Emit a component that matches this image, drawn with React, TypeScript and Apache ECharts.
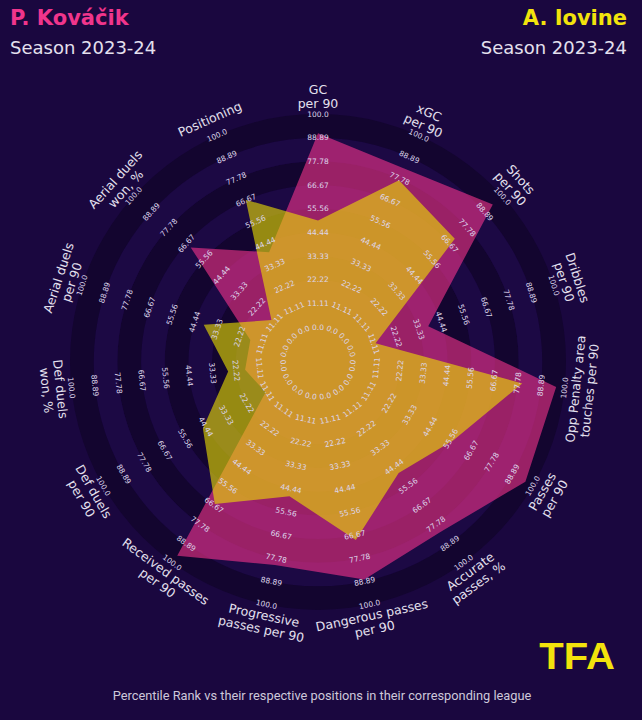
import React, { useEffect, useRef } from "react";
import * as echarts from "echarts";

// ---- data ----
const params = [
  "GC\nper 90",
  "xGC\nper 90",
  "Shots\nper 90",
  "Dribbles\nper 90",
  "Opp Penalty area\ntouches per 90",
  "Passes\nper 90",
  "Accurate\npasses, %",
  "Dangerous passes\nper 90",
  "Progressive\npasses per 90",
  "Received passes\nper 90",
  "Def duels\nper 90",
  "Def duels\nwon, %",
  "Aerial duels\nper 90",
  "Aerial duels\nwon, %",
  "Positioning",
];
const kovacik = [91, 83, 94, 38, 96, 96, 82, 88, 81, 96, 12, 18, 17, 64, 40];
const iovine = [50, 77, 70, 12, 80, 57, 48, 69, 48, 66, 46, 26, 40, 13, 67];
const tickValues = [0, 11.11, 22.22, 33.33, 44.44, 55.56, 66.67, 77.78, 88.89, 100];
const tickLabels = ["0.0", "11.11", "22.22", "33.33", "44.44", "55.56", "66.67", "77.78", "88.89", "100.0"];

// ---- style ----
const BG = "#1a073f";
const DARK = "#13052f";
const LIGHT = "#1c0944";
const PINK = "#f0358c";
const PINK_FILL = "rgba(245,52,140,0.6)";
const YELLOW = "#f2e30c";
const YELLOW_FILL = "rgba(238,226,0,0.6)";
const TEXT = "#e4e0ee";
const TICK = "#ddd5ea";
const FONT = "DejaVu Sans";
const R_MIN = -16.4;
const R_MAX = 100;
const LABEL_R = 108.4;

function textRotation(angleDeg: number) {
  let theta = 90 - angleDeg;
  while (theta > 180) theta -= 360;
  while (theta <= -180) theta += 360;
  const rot = theta >= 0 ? theta - 90 : theta + 90;
  return (rot * Math.PI) / 180;
}

export default function App() {
  const ref = useRef<HTMLDivElement>(null);
  useEffect(() => {
    document.body.style.margin = "0";
    const chart = echarts.init(ref.current!, null, { renderer: "svg" });
    const step = 360 / params.length;

    const bands: number[][] = [[R_MIN, tickValues[0], 0]];
    for (let k = 0; k < tickValues.length - 1; k++) {
      bands.push([tickValues[k], tickValues[k + 1], k]);
    }
    const tickData: number[][] = [];
    params.forEach((_, i) => tickValues.forEach((v, j) => tickData.push([v, i * step, j])));
    const paramData = params.map((_, i) => [LABEL_R, i * step, i]);

    const polygonSeries = (values: number[], fill: string, name: string) => ({
      type: "custom",
      name,
      coordinateSystem: "polar",
      silent: true,
      data: [values],
      renderItem: (_p: any, api: any) => {
        const pts = params.map((__, i) => api.coord([api.value(i), i * step]));
        return { type: "polygon", shape: { points: pts }, style: { fill } };
      },
    });

    const option: any = {
      animation: false,
      backgroundColor: BG,
      polar: { center: [318, 362], radius: 248 },
      angleAxis: {
        type: "value",
        min: 0,
        max: 360,
        startAngle: 90,
        clockwise: true,
        show: false,
      },
      radiusAxis: { type: "value", min: R_MIN, max: R_MAX, show: false },
      series: [
        {
          type: "custom",
          coordinateSystem: "polar",
          silent: true,
          data: bands,
          renderItem: (_p: any, api: any) => {
            const c = api.coord([R_MIN, 0]);
            const a = api.coord([api.value(0), 0]);
            const b = api.coord([api.value(1), 0]);
            const r0 = Math.hypot(a[0] - c[0], a[1] - c[1]);
            const r = Math.hypot(b[0] - c[0], b[1] - c[1]);
            return {
              type: "ring",
              shape: { cx: c[0], cy: c[1], r, r0 },
              style: { fill: api.value(2) % 2 === 0 ? DARK : LIGHT },
            };
          },
        },
        polygonSeries(kovacik, PINK_FILL, "P. Kováčik"),
        polygonSeries(iovine, YELLOW_FILL, "A. Iovine"),
        {
          type: "custom",
          coordinateSystem: "polar",
          silent: true,
          data: tickData,
          renderItem: (_p: any, api: any) => {
            const ang = api.value(1);
            const p = api.coord([api.value(0), ang]);
            return {
              type: "text",
              x: p[0],
              y: p[1],
              rotation: textRotation(ang),
              style: {
                text: tickLabels[api.value(2)],
                fill: TICK,
                fontSize: 7.5,
                fontFamily: FONT,
                align: "center",
                verticalAlign: "middle",
              },
            };
          },
        },
        {
          type: "custom",
          coordinateSystem: "polar",
          silent: true,
          data: paramData,
          renderItem: (_p: any, api: any) => {
            const ang = api.value(1);
            const p = api.coord([api.value(0), ang]);
            return {
              type: "text",
              x: p[0],
              y: p[1],
              rotation: textRotation(ang),
              style: {
                text: params[api.value(2)],
                fill: TEXT,
                fontSize: 12.5,
                lineHeight: 14,
                fontFamily: FONT,
                align: "center",
                verticalAlign: "middle",
              },
            };
          },
        },
      ],
      graphic: [
        {
          type: "text",
          x: 10,
          y: 18,
          style: { text: "P. Kováčik", fill: PINK, fontSize: 21, fontWeight: "bold", fontFamily: FONT, align: "left", verticalAlign: "middle" },
        },
        {
          type: "text",
          x: 10,
          y: 47,
          style: { text: "Season 2023-24", fill: TEXT, fontSize: 18, fontFamily: FONT, align: "left", verticalAlign: "middle" },
        },
        {
          type: "text",
          x: 627,
          y: 18,
          style: { text: "A. Iovine", fill: YELLOW, fontSize: 21, fontWeight: "bold", fontFamily: FONT, align: "right", verticalAlign: "middle" },
        },
        {
          type: "text",
          x: 627,
          y: 47,
          style: { text: "Season 2023-24", fill: TEXT, fontSize: 18, fontFamily: FONT, align: "right", verticalAlign: "middle" },
        },
        {
          type: "text",
          x: 577,
          y: 656,
          scaleY: 0.92,
          style: { text: "TFA", fill: YELLOW, fontSize: 40, fontWeight: 900, fontFamily: "Liberation Sans", align: "center", verticalAlign: "middle" },
        },
        {
          type: "text",
          x: 322,
          y: 695,
          style: {
            text: "Percentile Rank vs their respective positions in their corresponding league",
            fill: "#cdc8da",
            fontSize: 12.8,
            fontFamily: "Roboto",
            align: "center",
            verticalAlign: "middle",
          },
        },
      ],
    };
    chart.setOption(option);
    return () => chart.dispose();
  }, []);
  return <div ref={ref} style={{ width: 642, height: 720 }} />;
}
